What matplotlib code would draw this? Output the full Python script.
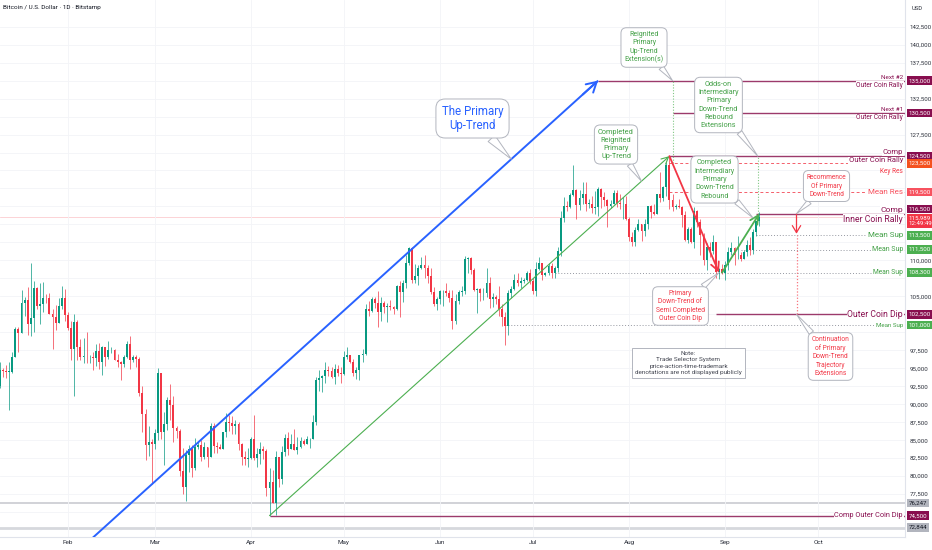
import numpy as np
import pandas as pd
import matplotlib
matplotlib.use('Agg')
import matplotlib.pyplot as plt
import matplotlib.dates as mdates

plt.rcParams['font.family'] = ['Roboto', 'DejaVu Sans']

W, H = 932, 550

# daily BTC/USD candles (Bitstamp), thousands of USD, from 2025-01-10
first_day = '2025-01-10'
opens = [
    92.5, 94.7, 94.6, 94.5, 94.5, 96.5, 100.5, 99.9, 104.1, 104.5, 101.1, 102.0, 106.1, 103.6, 104.0, 104.8, 104.7, 102.6, 102.1, 101.3, 103.7, 104.7,
    102.4, 100.6, 97.7, 101.4, 97.9, 96.6, 96.6, 96.5, 96.5, 96.4, 97.4, 95.8, 97.9, 96.6, 97.5, 97.6, 96.1, 95.8, 95.6, 96.6, 98.3, 96.1, 96.6, 96.3, 91.5, 88.7, 84.3, 84.7,
    84.4, 86.0, 94.3, 86.1, 87.2, 90.6, 89.9, 86.7, 86.2, 80.7, 78.5, 82.9, 83.7, 81.1, 84.0, 84.3, 82.6, 84.1, 82.7, 86.9, 84.2, 84.1, 83.8, 86.1, 87.5, 87.4, 86.9, 87.2, 84.4, 82.6, 82.4,
    82.5, 85.2, 82.5, 83.1, 83.8, 83.5, 78.4, 79.2, 76.3, 82.6, 79.6, 83.4, 85.3, 83.7, 84.5, 83.6, 84.0, 84.9, 84.5, 85.1, 85.2, 87.5, 93.4, 93.7, 93.9, 94.7, 94.6, 93.8, 94.9, 94.3,
    94.2, 96.5, 96.9, 95.9, 94.3, 94.7, 96.8, 97.0, 103.2, 102.9, 104.6, 104.1, 102.8, 104.1, 103.5, 103.7, 103.5, 103.2, 106.5, 105.6, 106.8, 109.6, 111.7, 107.3, 107.8, 109.0, 109.4, 108.9, 107.8, 105.6, 103.9,
    104.6, 105.7, 105.8, 105.4, 104.7, 101.5, 104.3, 105.6, 105.7, 110.2, 110.3, 108.6, 105.9, 106.0, 105.4, 105.5, 106.8, 104.6, 104.9, 104.6, 103.3, 102.1, 100.9, 105.4, 106.0, 107.3, 106.9, 107.1, 107.3, 108.3,
    107.1, 105.7, 108.8, 109.6, 108.0, 108.2, 109.2, 108.2, 108.9, 111.3, 115.9, 117.5, 117.4, 119.1, 119.8, 117.7, 118.7, 119.3, 117.9, 117.9, 117.3, 117.4, 119.9, 118.8, 118.4, 117.6, 117.9, 119.4, 118.0, 117.8, 117.8,
    115.8, 113.3, 112.5, 114.2, 115.0, 114.1, 115.0, 117.5, 116.7, 116.5, 119.3, 118.7, 120.2, 123.3, 118.4, 117.4, 117.5, 117.4, 116.3, 112.9, 114.3, 112.5, 116.9, 115.4, 113.5, 110.1, 111.8, 111.3, 112.6, 108.4, 108.8,
    108.3, 109.3, 111.2, 111.7, 110.7, 110.7, 110.2, 111.1, 112.1, 111.5, 113.9, 115.5,
]
highs = [
    95.8, 95.0, 95.4, 95.9, 97.3, 100.7, 100.8, 105.9, 104.9, 106.3, 109.6, 107.2, 106.3, 106.8, 107.0, 105.3, 105.5, 103.2, 103.8, 104.8, 106.4, 106.0,
    102.8, 101.5, 102.5, 101.7, 99.1, 99.2, 100.1, 96.9, 97.3, 98.3, 98.5, 98.1, 98.0, 98.8, 97.9, 97.7, 97.0, 96.0, 96.9, 98.8, 99.5, 96.9, 96.9, 96.5, 92.5, 89.3, 87.0, 85.1,
    86.6, 95.0, 94.4, 88.9, 91.0, 92.8, 91.2, 86.9, 86.5, 83.9, 83.6, 84.3, 84.3, 85.3, 84.7, 85.0, 84.7, 84.1, 87.4, 87.4, 84.8, 84.5, 86.1, 88.8, 88.5, 88.3, 87.8, 87.5, 84.6, 83.5, 83.9,
    85.5, 88.5, 83.9, 84.7, 84.2, 83.8, 81.1, 80.8, 83.5, 82.7, 84.2, 85.9, 86.1, 85.8, 86.5, 85.5, 85.5, 85.1, 85.6, 85.3, 88.5, 93.8, 94.7, 94.0, 95.8, 95.3, 95.2, 95.6, 95.5, 95.2,
    97.4, 97.9, 96.9, 96.3, 95.2, 96.9, 97.7, 103.9, 104.3, 104.9, 104.9, 105.8, 104.9, 104.3, 104.1, 104.5, 103.7, 106.6, 107.1, 107.3, 110.8, 111.9, 111.8, 109.5, 109.3, 110.4, 110.7, 109.3, 108.9, 106.3, 104.9,
    105.9, 105.9, 106.8, 105.9, 105.9, 105.3, 105.9, 106.4, 110.6, 110.4, 110.4, 108.9, 106.2, 106.2, 106.1, 108.9, 107.7, 105.5, 105.2, 106.5, 104.0, 102.8, 105.9, 106.4, 108.1, 108.2, 107.7, 107.6, 108.5, 108.8,
    107.5, 109.8, 110.5, 109.7, 108.4, 109.7, 109.7, 109.2, 111.9, 116.8, 118.8, 118.2, 119.4, 123.2, 119.9, 119.8, 120.9, 120.9, 118.6, 118.9, 119.7, 120.2, 120.0, 119.5, 118.6, 118.4, 119.8, 119.8, 119.3, 118.8, 118.9,
    116.1, 114.0, 114.7, 115.7, 115.1, 115.7, 117.6, 117.7, 117.9, 119.3, 122.3, 120.3, 123.7, 124.5, 119.2, 117.9, 118.6, 117.6, 116.8, 114.6, 114.7, 117.4, 117.0, 115.8, 113.8, 112.4, 112.6, 113.5, 112.6, 108.9, 109.5,
    109.9, 111.8, 112.6, 111.8, 113.4, 111.2, 111.5, 112.9, 113.2, 114.3, 115.5, 116.7,
]
lows = [
    92.2, 93.8, 93.7, 89.2, 94.3, 96.5, 97.3, 99.9, 102.3, 99.6, 99.5, 100.1, 103.3, 101.2, 102.8, 104.1, 102.5, 97.7, 100.3, 101.3, 103.3, 101.6,
    100.3, 96.2, 91.2, 96.2, 96.2, 95.7, 95.7, 95.7, 94.7, 95.3, 94.9, 94.1, 95.3, 96.3, 97.1, 96.1, 95.2, 93.4, 95.2, 96.4, 94.9, 95.8, 95.2, 91.2, 86.1, 82.3, 82.8, 78.9,
    83.8, 85.0, 85.1, 81.5, 86.4, 87.8, 84.7, 85.3, 80.0, 77.5, 76.6, 80.6, 79.9, 80.8, 83.7, 82.1, 82.4, 81.2, 82.6, 83.2, 83.2, 83.7, 83.8, 85.5, 86.3, 85.9, 85.8, 83.6, 81.6, 81.5, 81.3,
    82.4, 82.3, 81.2, 81.7, 82.4, 77.2, 74.5, 76.2, 74.6, 78.5, 78.9, 82.8, 83.0, 83.7, 83.6, 83.1, 83.9, 84.3, 84.4, 83.9, 85.1, 87.1, 91.9, 91.7, 92.9, 93.9, 93.6, 92.8, 93.9, 92.9,
    94.1, 96.3, 95.7, 93.9, 93.5, 93.4, 95.8, 96.9, 102.3, 102.8, 103.4, 100.8, 101.5, 102.7, 101.4, 103.1, 102.6, 103.1, 102.1, 104.2, 106.1, 109.3, 106.8, 106.9, 106.6, 108.8, 107.6, 106.8, 105.3, 103.6, 103.1,
    103.9, 103.7, 105.0, 104.2, 100.4, 101.1, 103.9, 105.1, 105.3, 108.3, 108.1, 105.7, 102.7, 104.4, 104.5, 104.9, 103.4, 103.5, 103.9, 102.3, 100.9, 98.2, 99.6, 104.8, 105.9, 106.5, 106.2, 106.9, 107.1, 106.7,
    105.3, 105.1, 108.6, 107.3, 107.8, 107.9, 107.5, 107.5, 108.4, 110.6, 115.3, 116.9, 117.3, 118.9, 115.7, 117.0, 117.8, 116.9, 117.3, 116.6, 116.5, 116.2, 117.3, 117.5, 114.7, 117.3, 117.9, 117.4, 117.1, 115.8, 115.6,
    112.7, 112.0, 112.0, 114.1, 112.7, 113.4, 114.3, 115.9, 116.3, 116.5, 118.1, 118.2, 118.9, 117.2, 116.8, 117.2, 117.3, 114.7, 112.7, 112.4, 112.4, 111.7, 114.6, 110.8, 109.3, 108.7, 110.4, 110.9, 107.5, 107.4, 108.1,
    107.3, 108.6, 110.7, 109.3, 110.2, 109.9, 110.2, 110.6, 110.8, 110.9, 113.4, 114.8,
]
closes = [
    94.7, 94.6, 94.5, 94.5, 96.5, 100.5, 99.9, 104.1, 104.5, 101.1, 102.0, 106.1, 103.6, 104.0, 104.8, 104.7, 102.6, 102.1, 101.3, 103.7, 104.7, 102.4,
    100.6, 97.7, 101.4, 97.9, 96.6, 96.6, 96.5, 96.5, 96.4, 97.4, 95.8, 97.9, 96.6, 97.5, 97.6, 96.1, 95.8, 95.6, 96.6, 98.3, 96.1, 96.6, 96.3, 91.5, 88.7, 84.3, 84.7, 84.4,
    86.0, 94.3, 86.1, 87.2, 90.6, 89.9, 86.7, 86.2, 80.7, 78.5, 82.9, 83.7, 81.1, 84.0, 84.3, 82.6, 84.1, 82.7, 86.9, 84.2, 84.1, 83.8, 86.1, 87.5, 87.4, 86.9, 87.2, 84.4, 82.6, 82.4, 82.5,
    85.2, 82.5, 83.1, 83.8, 83.5, 78.4, 79.2, 76.3, 82.6, 79.6, 83.4, 85.3, 83.7, 84.5, 83.6, 84.0, 84.9, 84.5, 85.1, 85.2, 87.5, 93.4, 93.7, 93.9, 94.7, 94.6, 93.8, 94.9, 94.3, 94.2,
    96.5, 96.9, 95.9, 94.3, 94.7, 96.8, 97.0, 103.2, 102.9, 104.6, 104.1, 102.8, 104.1, 103.5, 103.7, 103.5, 103.2, 106.5, 105.6, 106.8, 109.6, 111.7, 107.3, 107.8, 109.0, 109.4, 108.9, 107.8, 105.6, 103.9, 104.6,
    105.7, 105.8, 105.4, 104.7, 101.5, 104.3, 105.6, 105.7, 110.2, 110.3, 108.6, 105.9, 106.0, 105.4, 105.5, 106.8, 104.6, 104.9, 104.6, 103.3, 102.1, 100.9, 105.4, 106.0, 107.3, 106.9, 107.1, 107.3, 108.3, 107.1,
    105.7, 108.8, 109.6, 108.0, 108.2, 109.2, 108.2, 108.9, 111.3, 115.9, 117.5, 117.4, 119.1, 119.8, 117.7, 118.7, 119.3, 117.9, 117.9, 117.3, 117.4, 119.9, 118.8, 118.4, 117.6, 117.9, 119.4, 118.0, 117.8, 117.8, 115.8,
    113.3, 112.5, 114.2, 115.0, 114.1, 115.0, 117.5, 116.7, 116.5, 119.3, 118.7, 120.2, 123.3, 118.4, 117.4, 117.5, 117.4, 116.3, 112.9, 114.3, 112.5, 116.9, 115.4, 113.5, 110.1, 111.8, 111.3, 112.6, 108.4, 108.8, 108.3,
    109.3, 111.2, 111.7, 110.7, 110.7, 110.2, 111.1, 112.1, 111.5, 113.9, 115.5, 115.989,
]

# drawn levels: price, start date, kind
level_prices = [135000, 130500, 124500, 123500, 119500, 116500, 113500, 111500, 108300, 102500, 101000, 74500]
level_starts = ['2025-07-22', '2025-08-15', '2025-08-14', '2025-08-14', '2025-08-14', '2025-09-11',
                '2025-09-11', '2025-09-06', '2025-07-08', '2025-08-29', '2025-06-22', '2025-04-07']
level_kinds = ['comp', 'comp', 'comp', 'res', 'res', 'comp', 'sup', 'sup', 'sup', 'comp', 'sup', 'comp']
gray_levels = [76247, 72844]
last_price = 115989

# trend lines (date, price)
blue_trend = [('2025-02-07', 70650), ('2025-07-22', 135000)]
red_leg = [('2025-08-14', 124500), ('2025-08-30', 108300)]
green_leg = [('2025-08-31', 108300), ('2025-09-12', 116500)]

PURPLE = '#880E4F'
PURPLE_LINE = '#9C3A6B'
RED = '#F23645'
CORAL = '#F7525F'
GREEN = '#43A047'
BLUE = '#2962FF'
UP = '#089981'
GRAY = '#9598A1'


def d(s):
    return mdates.date2num(pd.Timestamp(s))


def fig_xy(px, py):
    return (px / W, 1 - py / H)


dates = pd.date_range(first_day, periods=len(closes), freq='D')
x = mdates.date2num(dates)
o = np.array(opens) * 1000
h = np.array(highs) * 1000
l = np.array(lows) * 1000
c = np.array(closes) * 1000

fig = plt.figure(figsize=(W / 100, H / 100), dpi=100)
ax = fig.add_axes([0, 13 / H, 905 / W, 537 / H])

# price-scale labels (coloured boxes)
axis_labels = [
    (135000, '135,000', PURPLE, 0), (130500, '130,500', PURPLE, 0), (124500, '124,500', PURPLE, 0),
    (123500, '123,500', '#F4511E', 0), (119500, '119,500', CORAL, 0), (116500, '116,500', PURPLE, 3.3),
    (113500, '113,500', '#4CAF50', 0), (111500, '111,500', '#4CAF50', 0), (108300, '108,300', '#4CAF50', 0),
    (102500, '102,500', PURPLE, 0), (101000, '101,000', '#4CAF50', 0),
    (76247, '76,247', '#B2B5BE', 0), (74500, '74,500', PURPLE, 0), (72844, '72,844', '#B2B5BE', 0),
]
boxed = [a[0] for a in axis_labels] + [last_price, last_price - 900]

# axes frame
x0 = d('2025-02-01') - 68 / 3.1
ax.set_xlim(x0, x0 + 905 / 3.1)
ax.set_ylim(71527, 146213)
for s in ['top', 'left']:
    ax.spines[s].set_visible(False)
for s in ['right', 'bottom']:
    ax.spines[s].set_color('#E0E3EB')
    ax.spines[s].set_linewidth(0.8)
ax.yaxis.tick_right()
yt = np.arange(75000, 142501, 2500)
ax.set_yticks(yt)
ax.set_yticklabels(['' if min(abs(v - b) for b in boxed) <= 1000 else f'{v:,.0f}' for v in yt])
months = ['Feb', 'Mar', 'Apr', 'May', 'Jun', 'Jul', 'Aug', 'Sep', 'Oct']
ax.set_xticks([d(f'2025-{m:02d}-01') for m in range(2, 11)])
ax.set_xticklabels(months)
ax.tick_params(axis='x', length=0, labelsize=4.6, colors='#2A2E39', pad=2.5)
ax.tick_params(axis='y', length=0, labelsize=4.4, colors='#2A2E39', pad=3.5)
ax.grid(True, color='#F3F4F7', lw=0.6, zorder=0)

# candles
col = np.where(c >= o, UP, RED)
ax.vlines(x, l, h, colors=col, lw=0.5, zorder=3)
ax.bar(x, np.maximum(np.abs(c - o), 60), bottom=np.minimum(o, c), width=0.62,
       color=col, lw=0, zorder=4)

# horizontal levels
for p, start, kind in zip(level_prices, level_starts, level_kinds):
    if kind == 'comp':
        ax.hlines(p, d(start), ax.get_xlim()[1], color=PURPLE_LINE, lw=1.0, zorder=2)
    elif kind == 'res':
        ax.hlines(p, d(start), ax.get_xlim()[1], color=RED, lw=0.7,
                  linestyles=(0, (3, 2.5)), alpha=0.8, zorder=2)
    else:
        ax.hlines(p, d(start), ax.get_xlim()[1], color=GRAY, lw=0.7,
                  linestyles=(0, (1, 2)), zorder=2)
ax.axhline(gray_levels[0], color='#C9CBD1', lw=1.2, zorder=1)
ax.axhline(gray_levels[1], color='#D6D8DD', lw=2.0, zorder=1)
ax.axhline(last_price, color=RED, lw=0.5, alpha=0.3, zorder=1)

# blue primary up-trend
bx = [d(p[0]) for p in blue_trend]
by = [p[1] for p in blue_trend]
ax.plot(bx, by, color=BLUE, lw=1.4, zorder=5, solid_capstyle='butt')
ax.annotate('', xy=(bx[1], by[1]), xytext=(bx[0] + 0.97 * (bx[1] - bx[0]), by[0] + 0.97 * (by[1] - by[0])),
            arrowprops=dict(arrowstyle='->,head_length=0.7,head_width=0.4', color=BLUE, lw=1.4,
                            shrinkA=0, shrinkB=0), zorder=5)

# green reignited up-trend: April low to August high
i_lo = int(np.argmin(l))
i_hi = int(np.argmax(h))
gx = [x[i_lo], x[i_hi]]
gy = [l[i_lo], h[i_hi]]
ax.annotate('', xy=(gx[1], gy[1]), xytext=(gx[0], gy[0]),
            arrowprops=dict(arrowstyle='->,head_length=0.5,head_width=0.25', color='#4CAF50', lw=0.8,
                            shrinkA=0, shrinkB=0), zorder=5)

# red down leg and green rebound leg
ax.annotate('', xy=(d(red_leg[1][0]), red_leg[1][1]), xytext=(d(red_leg[0][0]), red_leg[0][1]),
            arrowprops=dict(arrowstyle='->,head_length=0.6,head_width=0.3', color=RED, lw=1.3,
                            shrinkA=0, shrinkB=0), zorder=5)
ax.annotate('', xy=(d(green_leg[1][0]), green_leg[1][1]), xytext=(d(green_leg[0][0]), green_leg[0][1]),
            arrowprops=dict(arrowstyle='->,head_length=0.6,head_width=0.3', color='#4CAF50', lw=1.3,
                            shrinkA=0, shrinkB=0), zorder=5)

# projection verticals
ax.vlines(d('2025-08-15'), 123500, 135000, color='#81C784', lw=0.8, linestyles=(0, (1, 1.5)), zorder=2)
ax.vlines(d('2025-09-11 12:00'), 116500, 124500, color='#81C784', lw=0.8, linestyles=(0, (1, 1.5)), zorder=2)
ax.annotate('', xy=(d('2025-09-24'), 113700), xytext=(d('2025-09-24'), 116500),
            arrowprops=dict(arrowstyle='->,head_length=0.5,head_width=0.3', color=RED, lw=0.9,
                            shrinkA=0, shrinkB=0), zorder=5)
ax.vlines(d('2025-09-24'), 102500, 113500, color=CORAL, lw=0.9, linestyles=(0, (1, 1.5)), alpha=0.8, zorder=2)

# callouts
box = dict(boxstyle='round,pad=0.5,rounding_size=0.8', fc='white', ec='#B2B5BE', lw=0.7)
wedge = dict(arrowstyle='wedge,tail_width=0.8,shrink_factor=0.5', fc='white', ec='#B2B5BE', lw=0.7,
             shrinkA=0, shrinkB=0)


def on_line(line, day):
    lx = [d(p[0]) for p in line]
    ly = [p[1] for p in line]
    return d(day), float(np.interp(d(day), lx, ly))


callouts = [
    ('Reignited\nPrimary\nUp-Trend\nExtension(s)', GREEN, 5.0, (644, 47.5), (d('2025-08-15'), 135000)),
    ('Odds-on\nIntermediary\nPrimary\nDown-Trend\nRebound\nExtensions', GREEN, 5.2, (718.5, 105), (d('2025-09-11 12:00'), 124500)),
    ('Completed\nReignited\nPrimary\nUp-Trend', GREEN, 5.3, (616, 144.5),
     (d('2025-08-05'), float(np.interp(d('2025-08-05'), gx, gy)))),
    ('Completed\nIntermediary\nPrimary\nDown-Trend\nRebound', GREEN, 5.1, (714.5, 179.5), (d('2025-09-10'), 115900)),
    ('Primary\nDown-Trend of\nSemi Completed\nOuter Coin Dip', RED, 4.9, (680.5, 306), (d(red_leg[1][0]), red_leg[1][1])),
    ('Recommence\nOf Primary\nDown-Trend', RED, 4.7, (826.5, 186), (d('2025-09-24'), 116500)),
    ('Continuation\nof Primary\nDown-Trend\nTrajectory\nExtensions', RED, 4.8, (830.5, 356.5), (d('2025-09-24'), 102500)),
    ('The Primary\nUp-Trend', BLUE, 8.3, (472.5, 118.5), on_line(blue_trend, '2025-06-24')),
]
for text, color, size, pos, target in callouts:
    ax.annotate(text, xy=target, xycoords='data', xytext=fig_xy(*pos), textcoords='figure fraction',
                ha='center', va='center', fontsize=size, color=color,
                linespacing=1.25 if size < 7 else 1.15,
                bbox=box, arrowprops=wedge, zorder=8)

ax.annotate('Note:\nTrade Selector System\nprice-action-time-trademark\ndenotations are not displayed publicly',
            xy=fig_xy(688.5, 363), xycoords='figure fraction', ha='center', va='center',
            fontsize=4.6, color='#434651', linespacing=1.3,
            bbox=dict(boxstyle='square,pad=0.45', fc='white', ec='#B2B5BE', lw=0.7), zorder=8)

# right-hand level names
side_texts = [
    ('Next #2', 135000, PURPLE, 4.6, 'above'),
    ('Outer Coin Rally', 135000, PURPLE, 4.8, 'below'),
    ('Next #1', 130500, PURPLE, 4.6, 'above'),
    ('Outer Coin Rally', 130500, PURPLE, 4.8, 'below'),
    ('Comp', 124500, PURPLE, 5.5, 'above'),
    ('Outer Coin Rally', 124500, PURPLE, 5.5, 'below'),
    ('Key Res', 123500, RED, 4.7, 'below2'),
    ('Mean Res', 119500, CORAL, 5.8, 'center'),
    ('Comp', 116500, PURPLE, 6.1, 'above'),
    ('Inner Coin Rally', 116500, PURPLE, 6.2, 'below'),
    ('Mean Sup', 113500, GREEN, 5.8, 'center'),
    ('Mean Sup', 111500, GREEN, 5.0, 'center'),
    ('Mean Sup', 108300, GREEN, 4.9, 'center'),
    ('Outer Coin Dip', 102500, PURPLE, 6.2, 'center'),
    ('Mean Sup', 101000, GREEN, 4.4, 'center'),
    ('Comp Outer Coin Dip', 74500, PURPLE, 5.3, 'center'),
]
for text, p, color, size, where in side_texts:
    va, dy = {'above': ('bottom', 0.8), 'below': ('top', -0.8),
              'below2': ('top', -3.5), 'center': ('center', 0)}[where]
    ax.annotate(text, xy=(903 / W, p), xycoords=('figure fraction', 'data'), xytext=(0, dy),
                textcoords='offset points', ha='right', va=va, fontsize=size, color=color,
                bbox=dict(fc='white', ec='none', pad=0.4), zorder=7, annotation_clip=False)

for p, text, color, dy in axis_labels:
    ax.annotate(text, xy=(907.5 / W, p), xycoords=('figure fraction', 'data'), xytext=(0.6, dy),
                textcoords='offset points', ha='left', va='center', fontsize=4.4,
                color='#131722' if color == '#B2B5BE' else 'white',
                bbox=dict(boxstyle='square,pad=0.3', fc=color, ec='none'), zorder=9, annotation_clip=False)
ax.annotate(f'{last_price:,.0f}\n12:49:49', xy=(907.5 / W, last_price), xycoords=('figure fraction', 'data'),
            xytext=(0.6, -2.6), textcoords='offset points', ha='left', va='center', fontsize=4.4,
            color='white', linespacing=1.1, bbox=dict(boxstyle='square,pad=0.3', fc=RED, ec='none'),
            zorder=9, annotation_clip=False)

fig.text(*fig_xy(3, 7), 'Bitcoin / U.S. Dollar · 1D · Bitstamp', fontsize=4.6, color='#131722', va='center')
fig.text(*fig_xy(912, 8), 'USD', fontsize=4.2, color='#2A2E39', va='center')

fig.savefig('out.png', dpi=100, facecolor='white')
